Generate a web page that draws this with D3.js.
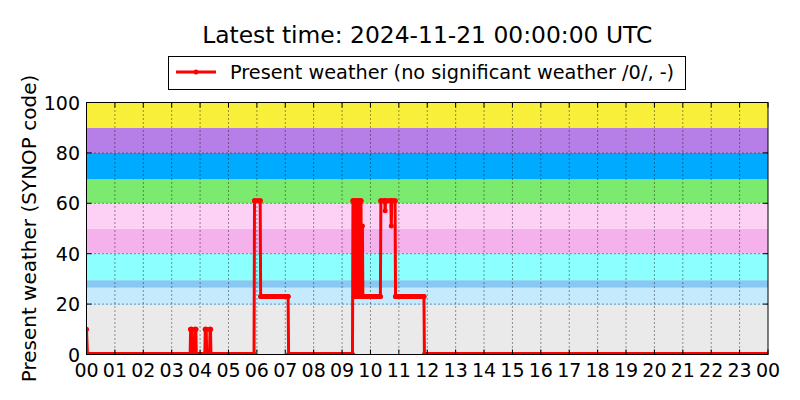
<!DOCTYPE html>
<html>
<head>
<meta charset="utf-8">
<script src="https://cdn.jsdelivr.net/npm/d3@7"></script>
<style>
  html, body { margin: 0; padding: 0; background: #fff; }
  svg { display: block; font-family: "DejaVu Sans", sans-serif; }
</style>
</head>
<body>
<svg id="chart" width="800" height="400"></svg>
<script>
// ---- data ----
const titleText = "Latest time: 2024-11-21 00:00:00 UTC";
const seriesName = "Present weather (no significant weather /0/, -)";
const yLabel = "Present weather (SYNOP code)";

const xTickLabels = ["00","01","02","03","04","05","06","07","08","09","10","11",
                     "12","13","14","15","16","17","18","19","20","21","22","23","00"];
const yTicks = [0, 20, 40, 60, 80, 100];

// background code bands [from, to]
const bandFrom = [0, 19.6, 26.5, 29.5, 40, 50, 60, 69.5, 80, 90];
const bandTo   = [19.6, 26.5, 29.5, 40, 50, 60, 69.5, 80, 90, 100];
const bandColors = ["#eaeaea", "#c6eafd", "#88c9f4", "#8cffff", "#f5b1ec",
                    "#fdd0f6", "#7cea6f", "#00aaff", "#b67ee7", "#f8ef3b"];

// observations (time of day, SYNOP ww code) – read at change points
const obsTimes = ["00:00","00:02",
  "03:39","03:40","03:42","03:43","03:48","03:49","03:51","03:52",
  "04:10","04:11","04:13","04:14","04:20","04:21","04:22","04:23",
  "05:54","05:55","06:07","06:08","07:06","07:07",
  "09:22","09:23","09:25","09:26","09:28","09:29","09:31","09:32","09:34","09:36",
  "09:38","09:40","09:41","09:43","09:44",
  "10:21","10:22","10:30","10:31","10:32","10:43","10:44","10:45","10:52","10:53",
  "11:53","11:54","23:59"];
const obsValues = [10, 0,
  0, 10, 10, 0, 0, 10, 10, 0,
  0, 10, 10, 0, 0, 10, 10, 0,
  0, 61, 61, 23, 23, 0,
  0, 61, 61, 23, 23, 61, 61, 23, 61, 23,
  61, 61, 23, 51, 23,
  23, 61, 61, 57, 61, 61, 51, 61, 61, 23,
  23, 0, 0];

// ---- layout ----
const svg = d3.select("#chart");
const L = 86.5, R = 768, T = 102.5, B = 354.5;

const toHours = s => { const [h, m] = s.split(":").map(Number); return h + m / 60; };
const data = obsTimes.map((t, i) => ({ x: toHours(t), y: obsValues[i] }));

const x = d3.scaleLinear().domain([0, 24]).range([L, R]);
const y = d3.scaleLinear().domain([0, 100]).range([B, T]);

// clip
svg.append("defs").append("clipPath").attr("id", "clip")
  .append("rect").attr("x", L).attr("y", T).attr("width", R - L).attr("height", B - T);

// bands
svg.append("g").selectAll("rect").data(bandFrom).join("rect")
  .attr("x", L).attr("width", R - L)
  .attr("y", (d, i) => y(bandTo[i]))
  .attr("height", (d, i) => y(d) - y(bandTo[i]))
  .attr("fill", (d, i) => bandColors[i]);

// grid
const grid = svg.append("g").attr("stroke", "#000").attr("stroke-width", 0.8)
  .attr("stroke-dasharray", "1,3");
grid.selectAll("line.v").data(d3.range(1, 24)).join("line")
  .attr("x1", d => x(d)).attr("x2", d => x(d)).attr("y1", T).attr("y2", B);
grid.selectAll("line.h").data(yTicks.slice(1, -1)).join("line")
  .attr("y1", d => y(d)).attr("y2", d => y(d)).attr("x1", L).attr("x2", R);

// series
const plot = svg.append("g").attr("clip-path", "url(#clip)");
const line = d3.line().x(d => x(d.x)).y(d => y(d.y));
plot.append("path").datum(data).attr("d", line)
  .attr("fill", "none").attr("stroke", "#ff0000").attr("stroke-width", 3)
  .attr("stroke-linejoin", "round");
// marker trail on flat runs (dense observations)
const runs = [];
for (let i = 0; i < data.length - 1; i++) {
  if (data[i].y === data[i + 1].y) runs.push([data[i], data[i + 1]]);
}
plot.append("g").selectAll("path").data(runs).join("path")
  .attr("d", line).attr("fill", "none").attr("stroke", "#ff0000")
  .attr("stroke-width", 5).attr("stroke-linecap", "round");
plot.append("g").selectAll("circle").data(data).join("circle")
  .attr("cx", d => x(d.x)).attr("cy", d => y(d.y)).attr("r", 2.5).attr("fill", "#ff0000");

// frame
svg.append("rect").attr("x", L).attr("y", T).attr("width", R - L).attr("height", B - T)
  .attr("fill", "none").attr("stroke", "#000").attr("stroke-width", 1);

// ticks (inside, all sides)
const tk = svg.append("g").attr("stroke", "#000").attr("stroke-width", 1);
d3.range(0, 25).forEach(h => {
  tk.append("line").attr("x1", x(h)).attr("x2", x(h)).attr("y1", B).attr("y2", B - 5);
  tk.append("line").attr("x1", x(h)).attr("x2", x(h)).attr("y1", T).attr("y2", T + 5);
});
yTicks.forEach(v => {
  tk.append("line").attr("y1", y(v)).attr("y2", y(v)).attr("x1", L).attr("x2", L + 5);
  tk.append("line").attr("y1", y(v)).attr("y2", y(v)).attr("x1", R).attr("x2", R - 5);
});

// tick labels
svg.append("g").selectAll("text").data(xTickLabels).join("text")
  .attr("x", (d, i) => x(i)).attr("y", 377).attr("text-anchor", "middle")
  .attr("font-size", 19).attr("fill", "#000").text(d => d);
svg.append("g").selectAll("text").data(yTicks).join("text")
  .attr("x", 80).attr("y", d => y(d) + 7).attr("text-anchor", "end")
  .attr("font-size", 19).attr("fill", "#000").text(d => d);

// y label
svg.append("text").attr("transform", `translate(36,${(T + B) / 2}) rotate(-90)`)
  .attr("text-anchor", "middle").attr("font-size", 20).text(yLabel);

// title
svg.append("text").attr("x", (L + R) / 2).attr("y", 43).attr("text-anchor", "middle")
  .attr("font-size", 23.4).text(titleText);

// legend
const lg = svg.append("g");
lg.append("rect").attr("x", 168.5).attr("y", 56.5).attr("width", 517).attr("height", 33)
  .attr("fill", "#fff").attr("stroke", "#000").attr("stroke-width", 1);
lg.append("line").attr("x1", 176).attr("x2", 216).attr("y1", 72).attr("y2", 72)
  .attr("stroke", "#ff0000").attr("stroke-width", 3);
lg.append("circle").attr("cx", 196).attr("cy", 72).attr("r", 2.5).attr("fill", "#ff0000");
lg.append("text").attr("x", 230).attr("y", 79).attr("font-size", 19.3).text(seriesName);
</script>
</body>
</html>
